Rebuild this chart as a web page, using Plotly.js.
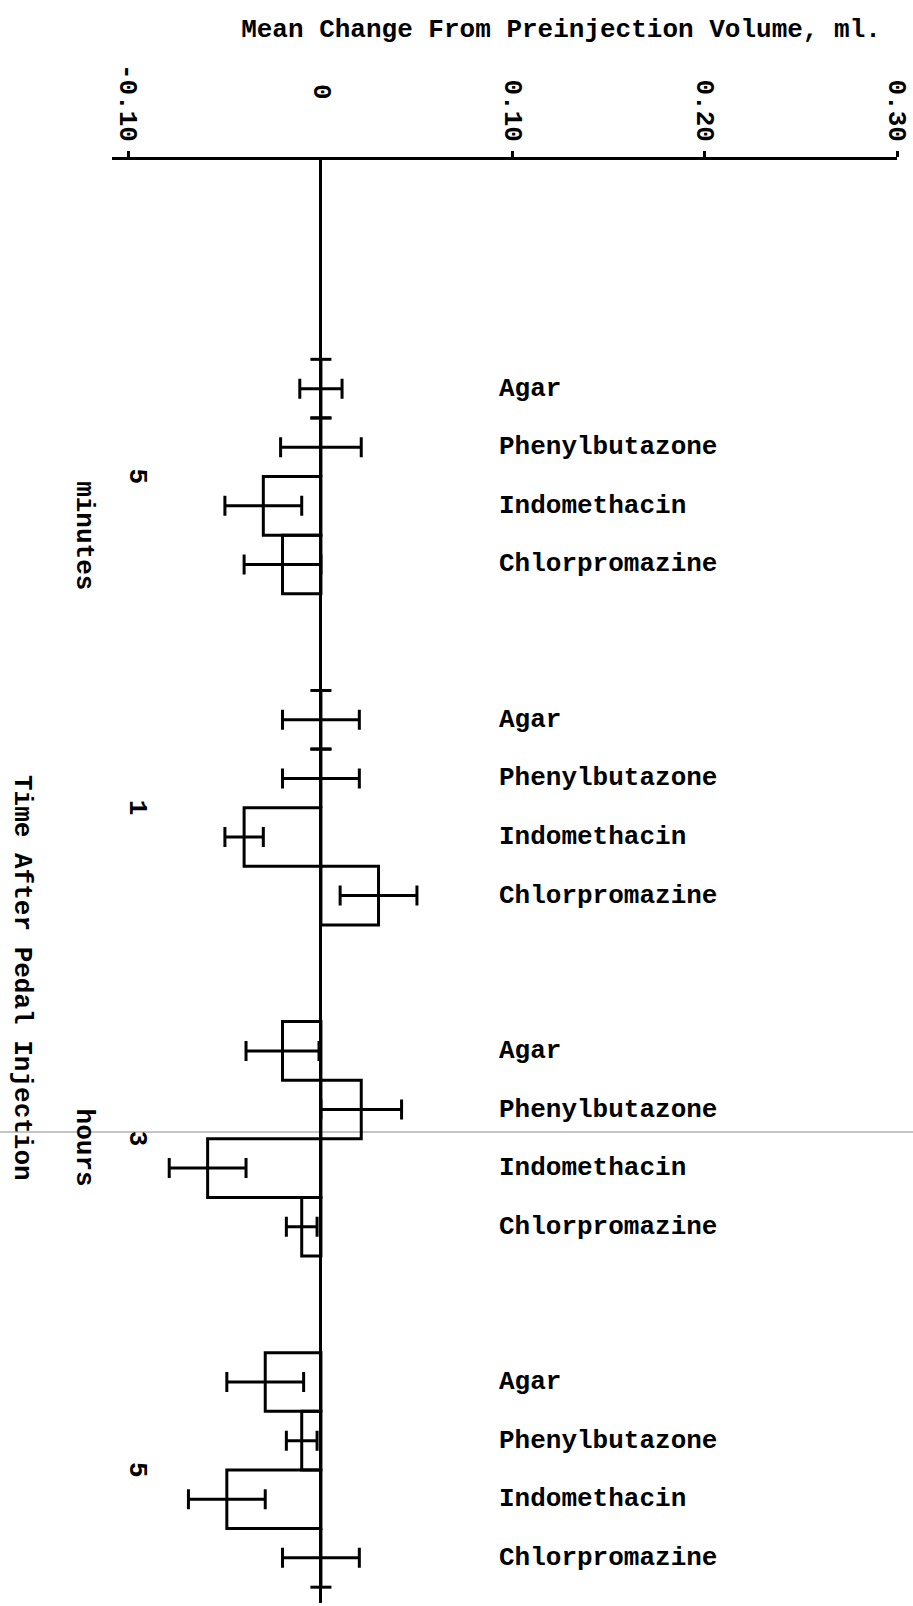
<!DOCTYPE html>
<html>
<head>
<meta charset="utf-8">
<script src="https://cdn.plot.ly/plotly-3.0.1.min.js"></script>
<style>
  html, body { margin: 0; padding: 0; background: #ffffff; }
  #chart { width: 913px; height: 1606px; }
</style>
</head>
<body>
<div id="chart"></div>
<script>
// Treatments, listed in the order they are drawn inside every time group
const treatments = ['Agar', 'Phenylbutazone', 'Indomethacin', 'Chlorpromazine'];

// Time groups: number and unit, typed as two stacked lines
const timeNumbers = ['5', '1', '3', '5'];
const timeUnits = ['minutes', '', 'hours', ''];

// Mean change from preinjection volume (ml) and its error, per time group
const change5min = [0.0, 0.0, -0.030, -0.020];
const error5min  = [0.011, 0.021, 0.020, 0.020];

const change1hr = [0.0, 0.0, -0.040, 0.030];
const error1hr  = [0.020, 0.020, 0.010, 0.020];

const change3hr = [-0.020, 0.021, -0.059, -0.010];
const error3hr  = [0.019, 0.021, 0.020, 0.008];

const change5hr = [-0.029, -0.010, -0.049, 0.0];
const error5hr  = [0.020, 0.008, 0.020, 0.020];

// Value axis ticks
const tickValues = [-0.10, 0.10, 0.20, 0.30];
const tickLabels = ['-0.10', '0.10', '0.20', '0.30'];

const groupChanges = [change5min, change1hr, change3hr, change5hr];
const groupErrors = [error5min, error1hr, error3hr, error5hr];

// ---- layout constants ----
const W = 913, H = 1606;
const M = { l: 112, r: 16, t: 160, b: 3 };
const GROUP_STEP = 5.65;          // distance between group starts, in bar units
const FONT = 'Liberation Mono, Courier New, monospace';
const INK = '#000000';

const plotW = W - M.l - M.r;
const plotH = H - M.t - M.b;
const pxX = px => (px - M.l) / plotW;        // page pixel -> paper x
const pxY = py => (H - M.b - py) / plotH;    // page pixel -> paper y
const bold = s => '<b>' + s + '</b>';

// Bar positions along the category axis
const pos = [], vals = [], errs = [], names = [];
groupChanges.forEach((g, gi) => {
  g.forEach((v, i) => {
    pos.push(gi * GROUP_STEP + i);
    vals.push(v);
    errs.push(groupErrors[gi][i]);
    names.push(treatments[i]);
  });
});

// Zero-height bars are marked by short dashes at their edges,
// unless a neighbouring drawn bar already closes that edge.
const dashY = [];
groupChanges.forEach((g, gi) => {
  g.forEach((v, i) => {
    if (v !== 0) return;
    const base = gi * GROUP_STEP + i;
    const above = i > 0 ? g[i - 1] : 0;
    const below = i < g.length - 1 ? g[i + 1] : 0;
    if (above === 0) dashY.push(base - 0.5);
    if (below === 0) dashY.push(base + 0.5);
  });
});

const bars = {
  type: 'bar',
  orientation: 'h',
  x: vals,
  y: pos,
  width: 1,
  text: names,
  hoverinfo: 'skip',
  textposition: 'none',
  marker: { color: 'rgba(255,255,255,0)', line: { color: INK, width: 3 } },
  error_x: { type: 'data', array: errs, visible: true, color: INK, thickness: 3, width: 10 }
};

const dashes = {
  type: 'scatter',
  mode: 'markers',
  x: dashY.map(() => 0),
  y: dashY,
  hoverinfo: 'skip',
  marker: { symbol: 'line-ew', size: 15, color: INK, line: { color: INK, width: 3 } }
};

const txtFont = { family: FONT, size: 26, color: INK };
const annotations = [];

// Treatment names beside each bar
pos.forEach((p, k) => {
  annotations.push({
    x: pxX(497), xref: 'paper', y: p, yref: 'y',
    text: bold(names[k]), showarrow: false,
    xanchor: 'left', yanchor: 'middle',
    font: txtFont
  });
});

// Time group labels on the left, rotated to read downwards
timeNumbers.forEach((t, gi) => {
  const mid = gi * GROUP_STEP + 1.5;
  annotations.push({
    x: pxX(137), xref: 'paper', y: mid, yref: 'y',
    text: bold(t), showarrow: false, textangle: 90,
    xanchor: 'center', yanchor: 'middle',
    font: txtFont
  });
  if (timeUnits[gi]) {
    annotations.push({
      x: pxX(84), xref: 'paper', y: mid + (gi === 0 ? 1.0 : 0.15), yref: 'y',
      text: bold(timeUnits[gi]), showarrow: false, textangle: 90,
      xanchor: 'center', yanchor: 'middle',
      font: txtFont
    });
  }
});

// Category axis title
annotations.push({
  x: pxX(22), xref: 'paper', y: pxY(978), yref: 'paper',
  text: bold('Time After Pedal Injection'), showarrow: false, textangle: 90,
  xanchor: 'center', yanchor: 'middle',
  font: txtFont
});

// Zero label sits above the axis without a tick
annotations.push({
  x: 0, xref: 'x', y: pxY(92), yref: 'paper',
  text: bold('0'), showarrow: false, textangle: 90,
  xanchor: 'center', yanchor: 'middle',
  font: txtFont
});

const layout = {
  width: W, height: H,
  margin: M,
  paper_bgcolor: '#ffffff',
  plot_bgcolor: '#ffffff',
  showlegend: false,
  font: txtFont,
  title: {
    text: bold('Mean Change From Preinjection Volume, ml.'),
    font: txtFont,
    x: 561 / W, xref: 'container', xanchor: 'center',
    y: 1 - 28 / H, yref: 'container', yanchor: 'middle'
  },
  bargap: 0,
  xaxis: {
    side: 'top',
    range: [-0.1088, 0.30],
    showgrid: false,
    zeroline: true, zerolinecolor: INK, zerolinewidth: 3,
    showline: true, linecolor: INK, linewidth: 3,
    ticks: 'outside', ticklen: 6, tickwidth: 3, tickcolor: INK,
    tickvals: tickValues, ticktext: tickLabels.map(bold),
    tickangle: 90,
    tickfont: txtFont,
    fixedrange: true
  },
  yaxis: {
    range: [20.72, -3.901],
    showgrid: false, zeroline: false, showline: false,
    showticklabels: false, ticks: '',
    fixedrange: true
  },
  annotations: annotations,
  shapes: [{
    type: 'line', xref: 'paper', yref: 'paper',
    x0: pxX(0), x1: pxX(W), y0: pxY(1132), y1: pxY(1132),
    line: { color: '#8a8a8a', width: 1 }, layer: 'below'
  }]
};

Plotly.newPlot('chart', [bars, dashes], layout, { staticPlot: true, displayModeBar: false });
</script>
</body>
</html>
